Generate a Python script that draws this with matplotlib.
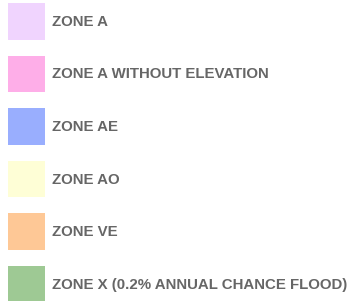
import matplotlib
matplotlib.use("Agg")
import matplotlib.pyplot as plt

labels = ["ZONE A", "ZONE A WITHOUT ELEVATION", "ZONE AE", "ZONE AO", "ZONE VE",
          "ZONE X (0.2% ANNUAL CHANCE FLOOD)"]
colors = ["#f0d4fe", "#feaee8", "#99aefe", "#fefed6", "#fec896", "#9ec994"]

W, H = 352, 301
fig = plt.figure(figsize=(W / 100, H / 100), dpi=100)
ax = fig.add_axes([0, 0, 1, 1])
ax.set_xlim(0, W)
ax.set_ylim(H, 0)
ax.axis("off")

top0 = 3
step = 52.6
sw_h = 36.5
ys = [top0 + i * step + sw_h / 2 for i in range(len(labels))]
ax.barh(ys, [37] * len(labels), left=8, height=sw_h, color=colors, linewidth=0)
for y, lab in zip(ys, labels):
    ax.text(52, y + 0.5, lab, fontsize=10.8, fontweight="bold", color="#666666",
            family="Liberation Sans", va="center", ha="left")

fig.savefig("out.png", dpi=100)
